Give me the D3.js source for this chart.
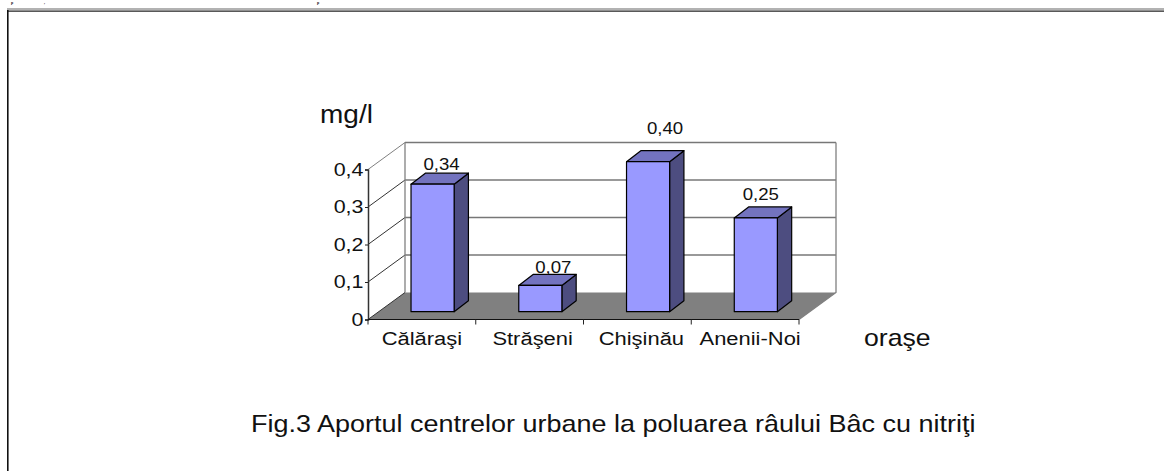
<!DOCTYPE html>
<html>
<head>
<meta charset="utf-8">
<script src="https://cdn.jsdelivr.net/npm/d3@7"></script>
<style>
  html, body { margin: 0; padding: 0; background: #fff; overflow: hidden; }
  svg { display: block; font-family: "Liberation Sans", Arial, sans-serif; }
</style>
</head>
<body>
<svg width="1164" height="471"></svg>
<script>
var categories = ["Călăraşi", "Străşeni", "Chişinău", "Anenii-Noi"];
var values = [0.34, 0.07, 0.40, 0.25];
var valueLabels = ["0,34", "0,07", "0,40", "0,25"];
var yTicks = [0, 0.1, 0.2, 0.3, 0.4];
var yTickLabels = ["0", "0,1", "0,2", "0,3", "0,4"];

var svg = d3.select("svg");

// textul e putin latit in original
function label(txt, px, py, size, stretch, anchor) {
  return svg.append("text")
    .attr("transform", "translate(" + px + "," + py + ") scale(" + stretch + ",1)")
    .attr("text-anchor", anchor || "start")
    .attr("font-size", size)
    .attr("fill", "#111")
    .text(txt);
}

// urmele randului de text de sus si cadrul paginii
[["p", 11], [",", 44], ["p", 317]].forEach(function (d) {
  svg.append("text").attr("x", d[1]).attr("y", 3.6)
    .attr("font-family", "Liberation Serif").attr("font-weight", "bold")
    .attr("font-size", 4).attr("fill", "#111").text(d[0]);
});
svg.append("line").attr("x1", 7).attr("x2", 1164).attr("y1", 9).attr("y2", 9).attr("stroke", "#999").attr("stroke-width", 1.5);
svg.append("line").attr("x1", 7).attr("x2", 1164).attr("y1", 11.2).attr("y2", 11.2).attr("stroke", "#222").attr("stroke-width", 1.2);
svg.append("line").attr("x1", 7.8).attr("x2", 7.8).attr("y1", 10).attr("y2", 471).attr("stroke", "#111").attr("stroke-width", 1.6);

var x = d3.scaleBand().domain(categories).range([368, 799]).paddingInner(0.6).paddingOuter(0.3);
var y = d3.scaleLinear().domain([0, 0.4]).range([319.5, 169.5]);

// adancimea 3D
var depthX = 37, depthY = -27;
var barDepthX = 14.3, barDepthY = -11;
var barOffX = 10.7, barOffY = -7.8;

var x0 = x.range()[0], x1 = x.range()[1];

// podeaua
svg.append("polygon")
  .attr("points", [[x0, y(0)], [x0 + depthX, y(0) + depthY], [x1 + depthX, y(0) + depthY], [x1, y(0)]].join(" "))
  .attr("fill", "#808080");

// peretele din spate si liniile de grila
var grid = svg.append("g").selectAll("g")
  .data(yTicks.slice(1))
  .enter()
  .append("g");
grid.append("line")
  .attr("x1", x0)
  .attr("y1", function (d) { return y(d); })
  .attr("x2", x0 + depthX)
  .attr("y2", function (d) { return y(d) + depthY; })
  .attr("stroke", function (d) { return d == 0.4 ? "#808080" : "#333"; });
grid.append("line")
  .attr("x1", x0 + depthX)
  .attr("y1", function (d) { return y(d) + depthY; })
  .attr("x2", x1 + depthX)
  .attr("y2", function (d) { return y(d) + depthY; })
  .attr("stroke", "#777")
  .attr("stroke-width", 1.3);

svg.append("line")
  .attr("x1", x0 + depthX).attr("x2", x0 + depthX)
  .attr("y1", y(0.4) + depthY).attr("y2", y(0) + depthY)
  .attr("stroke", "#808080").attr("stroke-width", 1.3);
svg.append("path")
  .attr("d", "M" + (x1 + depthX) + "," + (y(0.4) + depthY) + "V" + (y(0) + depthY) + "L" + x1 + "," + y(0))
  .attr("fill", "none")
  .attr("stroke", "#808080").attr("stroke-width", 1.3);
svg.append("line")
  .attr("x1", x0).attr("x2", x0 + depthX)
  .attr("y1", y(0)).attr("y2", y(0) + depthY)
  .attr("stroke", "#333");

// coloanele
var bars = svg.append("g").selectAll("g")
  .data(values)
  .enter()
  .append("g")
  .attr("stroke", "#000")
  .attr("stroke-width", 1.2)
  .attr("stroke-linejoin", "round");

function barLeft(d, i) { return x(categories[i]) + barOffX; }
function barRight(d, i) { return barLeft(d, i) + x.bandwidth(); }
function barTop(d) { return y(d) + barOffY; }
function barBottom() { return y(0) + barOffY; }

bars.append("polygon")
  .attr("fill", "#4d4d80")
  .attr("points", function (d, i) {
    var r = barRight(d, i);
    return [[r, barTop(d)], [r + barDepthX, barTop(d) + barDepthY], [r + barDepthX, barBottom() + barDepthY], [r, barBottom()]].join(" ");
  });
bars.append("polygon")
  .attr("fill", "#7373bf")
  .attr("points", function (d, i) {
    var l = barLeft(d, i), r = barRight(d, i), t = barTop(d);
    return [[l, t], [l + barDepthX, t + barDepthY], [r + barDepthX, t + barDepthY], [r, t]].join(" ");
  });
bars.append("rect")
  .attr("fill", "#9999ff")
  .attr("x", barLeft)
  .attr("y", barTop)
  .attr("width", x.bandwidth())
  .attr("height", function (d) { return barBottom() - barTop(d); });

// etichetele valorilor, mutate manual ca in grafic
var labelDx = [9, 13, 17, 5];
var labelDy = [3, 1, 17, 7];
values.forEach(function (d, i) {
  label(valueLabels[i],
    barLeft(d, i) + x.bandwidth() / 2 + labelDx[i],
    barTop(d) + barDepthY - labelDy[i],
    16.5, 1.13, "middle");
});

// axe
var yAxis = d3.axisLeft(y)
  .tickValues(yTicks)
  .tickSize(3)
  .tickPadding(1)
  .tickFormat(function (d, i) { return yTickLabels[i]; });
var gy = svg.append("g").attr("transform", "translate(" + x0 + ",0)").call(yAxis);
gy.selectAll("text")
  .attr("font-size", 19)
  .attr("font-family", "Liberation Sans")
  .attr("fill", "#111")
  .attr("y", -0.5)
  .attr("transform", "scale(1.13,1)");
gy.selectAll("line").attr("stroke", "#222");
gy.select("path.domain").attr("stroke", "#333").attr("stroke-width", 1.5);

var xTicks = d3.range(5).map(function (i) { return x0 + i * x.step(); });
var gx = svg.append("g");
gx.append("line").attr("x1", x0).attr("x2", x1).attr("y1", y(0)).attr("y2", y(0)).attr("stroke", "#111").attr("stroke-width", 1.2);
gx.selectAll("line.tick")
  .data(xTicks)
  .enter()
  .append("line")
  .attr("class", "tick")
  .attr("x1", function (d) { return d; })
  .attr("x2", function (d) { return d; })
  .attr("y1", y(0))
  .attr("y2", y(0) + 5)
  .attr("stroke", "#222");

var catShift = [0, 3, 4, 5];
categories.forEach(function (c, i) {
  label(c, x(c) + x.bandwidth() / 2 + catShift[i], 345, 19, 1.155, "middle");
});

// titluri
label("mg/l", 320, 123, 25, 1.12);
label("oraşe", 864, 346, 24, 1.11);
label("Fig.3 Aportul centrelor urbane la poluarea râului Bâc cu nitriţi", 251, 432, 24, 1.125);
</script>
</body>
</html>
